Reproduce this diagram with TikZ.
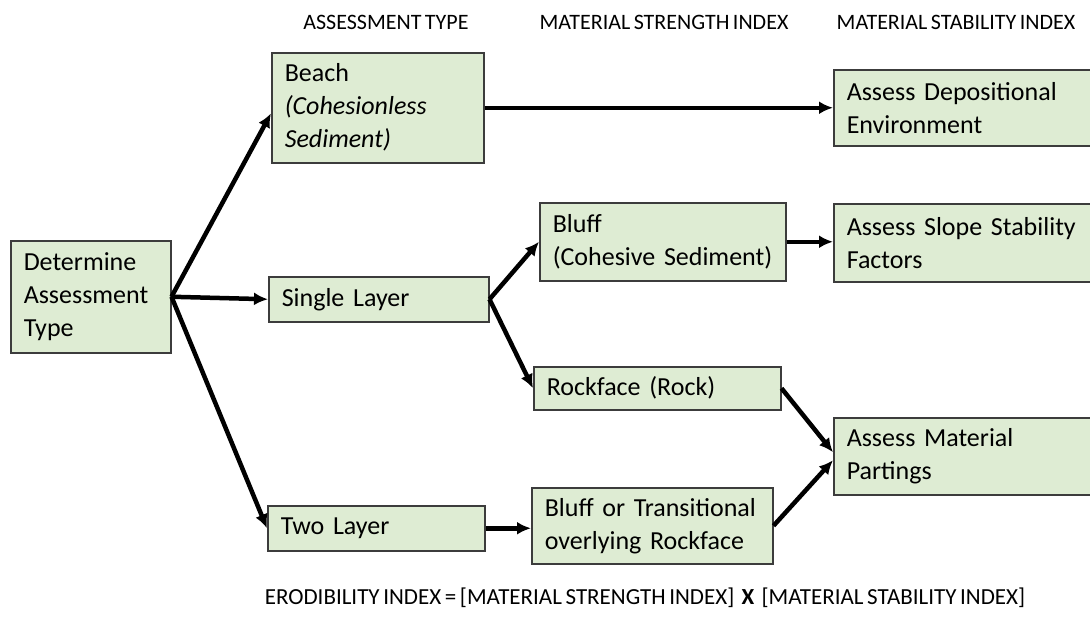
\documentclass[tikz,border=0pt]{standalone}
\usepackage{fontspec}
\setmainfont{Carlito}[WordSpace={0.7}]
\usetikzlibrary{arrows.meta,calc}
\definecolor{boxfill}{RGB}{222,236,211}
\definecolor{boxline}{RGB}{60,60,60}
\begin{document}
\begin{tikzpicture}[x=1pt,y=-1pt,
  box/.style={draw=boxline, line width=1.5pt, fill=boxfill, anchor=north west,
    align=left, inner xsep=13pt, inner ysep=0pt,
    font=\fontsize{26}{33}\selectfont},
  flow/.style={line width=4.5pt, -{Latex[length=14pt,width=13pt]}},
  head/.style={font=\fontsize{22}{26}\selectfont, inner sep=0pt}]
\useasboundingbox (0,0) rectangle (1090,616);
\fill[white] (0,0) rectangle (1090,616);
\clip (0,0) rectangle (1090,616);

% column headings
\node[head] (h1) at (386,22) {ASSESSMENT TYPE};
\node[head] (h2) at (664,22) {MATERIAL STRENGTH INDEX};
\node[head] (h3) at (956,22) {MATERIAL STABILITY INDEX};

% boxes
\node[box, text width=134pt, minimum height=112pt] (det) at (10,240) {Determine\\Assessment\\Type};
\node[box, text width=186pt, minimum height=110pt] (beach) at (271,52) {Beach\\\textit{(Cohesionless}\\\textit{Sediment)}};
\node[box, text width=194pt, minimum height=45pt] (single) at (268,276) {Single Layer};
\node[box, text width=191pt, minimum height=45pt] (two) at (267,505) {Two Layer};
\node[box, text width=220pt, minimum height=78pt] (bluff) at (539,202) {Bluff\\(Cohesive Sediment)};
\node[box, text width=221pt, minimum height=43pt] (rock) at (533,366) {Rockface (Rock)};
\node[box, text width=215pt, minimum height=76pt] (bt) at (531,487) {Bluff or Transitional\\overlying Rockface};
\node[box, text width=254pt, minimum height=76pt] (dep) at (833,69) {Assess Depositional\\Environment};
\node[box, text width=254pt, minimum height=78pt] (slope) at (833,203) {Assess Slope Stability\\Factors};
\node[box, text width=254pt, minimum height=77pt] (mat) at (833,417) {Assess Material\\Partings};

% connectors
\draw[flow] (det.east) -- ($(beach.north west)!0.55!(beach.south west)$);
\draw[flow] (det.east) -- (single.west);
\draw[flow] (det.east) -- (two.west);
\draw[flow] (beach.east) -- (beach.east -| dep.west);
\draw[flow] (single.east) -- (bluff.west);
\draw[flow] (single.east) -- (rock.west);
\draw[flow] (bluff.east) -- (bluff.east -| slope.west);
\draw[flow] (two.east) -- (two.east -| bt.west);
\draw[flow] (rock.east) -- ($(mat.west)+(0,-4)$);
\draw[flow] (bt.east) -- ($(mat.west)+(0,4)$);

% formula
\node[head, font=\fontsize{23}{27}\selectfont] (formula) at (645,598) {ERODIBILITY INDEX = [MATERIAL STRENGTH INDEX]\ \ \textbf{X}\ \ [MATERIAL STABILITY INDEX]};
\end{tikzpicture}
\end{document}
